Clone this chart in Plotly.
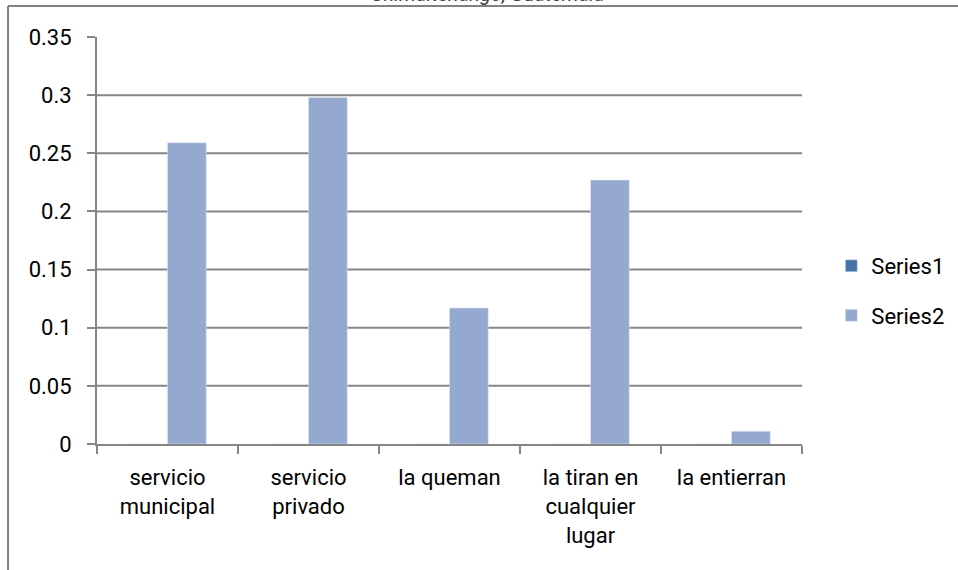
import plotly.graph_objects as go

categories = ["servicio<br>municipal", "servicio<br>privado", "la queman",
              "la tiran en<br>cualquier<br>lugar", "la entierran"]
series1 = [0, 0, 0, 0, 0]
series2 = [0.259, 0.298, 0.117, 0.227, 0.011]
ytick_vals = [0, 0.05, 0.1, 0.15, 0.2, 0.25, 0.3, 0.35]
ytick_text = ["0", "0.05", "0.1", "0.15", "0.2", "0.25", "0.3", "0.35"]
grid_vals = [0.05, 0.1, 0.15, 0.2, 0.25, 0.3]
title_text = "Chimaltenango, Guatemala"

GRAY = "#868686"
FONT = "Roboto, 'Noto Sans', sans-serif"

fig = go.Figure()
fig.add_trace(go.Bar(name="Series1", x=categories, y=series1,
                     marker_color="#4672A8", legendgroup="a"))
fig.add_trace(go.Bar(name="Series2", x=categories, y=series2,
                     marker_color="#95A9D0", legendgroup="b"))

shapes = []
for g in grid_vals:
    shapes.append(dict(type="line", xref="paper", yref="y", x0=0, x1=1,
                       y0=g, y1=g, line=dict(color=GRAY, width=2), layer="below"))
# outer chart border (left and top)
shapes.append(dict(type="line", xref="paper", yref="paper", x0=-0.1262, x1=-0.1262,
                   y0=1.0762, y1=-0.5, line=dict(color="#808080", width=2)))
shapes.append(dict(type="line", xref="paper", yref="paper", x0=-0.1262, x1=1.4,
                   y0=1.0762, y1=1.0762, line=dict(color="#808080", width=2)))

fig.update_layout(
    width=958, height=570,
    margin=dict(l=97, r=156, t=37, b=126, pad=0, autoexpand=False),
    paper_bgcolor="white", plot_bgcolor="white",
    barmode="group", bargap=0.45, bargroupgap=0,
    font=dict(family=FONT, size=22, color="black"),
    shapes=shapes,
    showlegend=True,
    legend=dict(x=1.0416, xanchor="left", y=0.376, yanchor="middle",
                font=dict(family=FONT, size=22, color="black"),
                tracegroupgap=18, traceorder="grouped",
                bgcolor="rgba(0,0,0,0)"),
    annotations=[dict(text=title_text, xref="paper", yref="paper",
                      x=0.555, y=1.0713, xanchor="center", yanchor="bottom",
                      showarrow=False,
                      font=dict(family=FONT, size=20, color="#404040",
                                style="italic"))],
)
fig.update_xaxes(
    type="category", tickson="boundaries", ticks="outside", ticklen=8,
    tickcolor=GRAY, tickwidth=2, showline=True, linecolor=GRAY, linewidth=2,
    showgrid=False, zeroline=False, ticklabelstandoff=13,
)
fig.update_yaxes(
    range=[0, 0.35], tickvals=ytick_vals, ticktext=ytick_text,
    ticks="outside", ticklen=8, tickcolor=GRAY, tickwidth=2,
    showline=True, linecolor=GRAY, linewidth=2,
    showgrid=False, zeroline=False, ticklabelstandoff=11,
)

fig.write_html("out.html",
               config={"displayModeBar": False},
               post_script="document.body.style.margin='0';"
                           "document.documentElement.style.overflow='hidden';")
